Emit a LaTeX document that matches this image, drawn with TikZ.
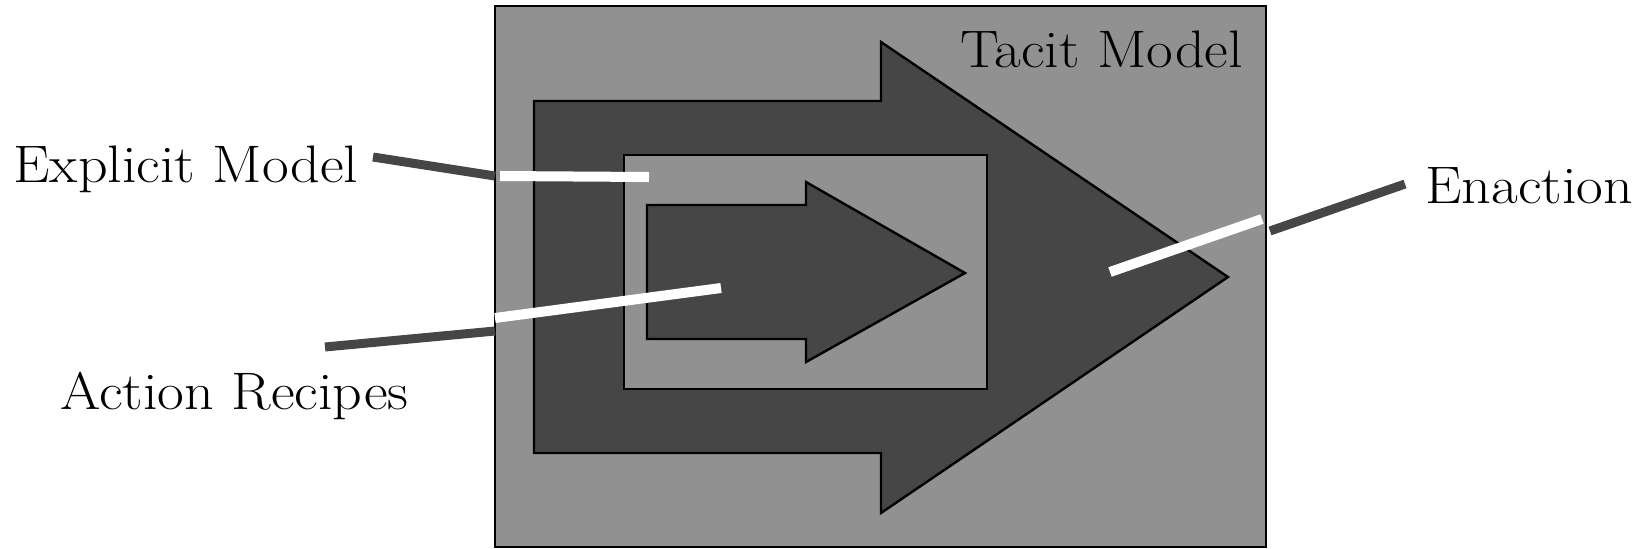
\documentclass[tikz,border=0pt]{standalone}
\usepackage{graphicx}
\definecolor{boxgray}{RGB}{145,145,145}
\definecolor{arrowdark}{RGB}{70,70,70}
\newcommand{\widelabel}[1]{\scalebox{1.1}[1]{#1}}
\tikzset{
  shapeline/.style={draw=black, line width=1.2pt, line join=miter},
  lightfill/.style={shapeline, fill=boxgray},
  darkfill/.style={shapeline, fill=arrowdark},
  leaderdark/.style={draw=arrowdark, line width=4.5pt},
  leaderwhite/.style={draw=white, line width=5pt},
  lbl/.style={anchor=base west, inner sep=0pt, font=\fontsize{26.4}{30}\selectfont}
}
\begin{document}
\begin{tikzpicture}[x=0.5pt, y=-0.5pt]
\useasboundingbox (0,0) rectangle (1634,548);
% outer box (tacit model)
\draw[lightfill] (495,6) rectangle (1266,547);
% big arrow
\draw[darkfill] (534,101) -- (881,101) -- (881,42) -- (1228,277) -- (881,513) -- (881,453) -- (534,453) -- cycle;
% inner rectangle (explicit model)
\draw[lightfill] (624,155) rectangle (987,389);
% small arrow (action recipes)
\draw[darkfill] (647,205) -- (806,205) -- (806,182) -- (965,273) -- (806,362) -- (806,339) -- (647,339) -- cycle;
% labels
\node[lbl] (tacit) at (960,67) {\widelabel{Tacit Model}};
\node[lbl] (explicit) at (13,182) {\widelabel{Explicit Model}};
\node[lbl] (recipes) at (60,409) {\widelabel{Action Recipes}};
\node[lbl] (enaction) at (1425,203) {\widelabel{Enaction}};
% leader coordinates
\coordinate (e1) at (373,157);
\coordinate (e2) at (495,176);
\coordinate (e3) at (500,176);
\coordinate (e4) at (649,177);
\coordinate (r1) at (325,347);
\coordinate (r2) at (495,331);
\coordinate (r3) at (495,318);
\coordinate (r4) at (721,288);
\coordinate (n1) at (1405,184);
\coordinate (n2) at (1270,231);
\coordinate (n3) at (1262,219);
\coordinate (n4) at (1110,272);
% leaders
\draw[leaderdark] (e1) -- (e2);
\draw[leaderwhite] (e3) -- (e4);
\draw[leaderdark] (r1) -- (r2);
\draw[leaderwhite] (r3) -- (r4);
\draw[leaderdark] (n1) -- (n2);
\draw[leaderwhite] (n3) -- (n4);
\end{tikzpicture}
\end{document}
